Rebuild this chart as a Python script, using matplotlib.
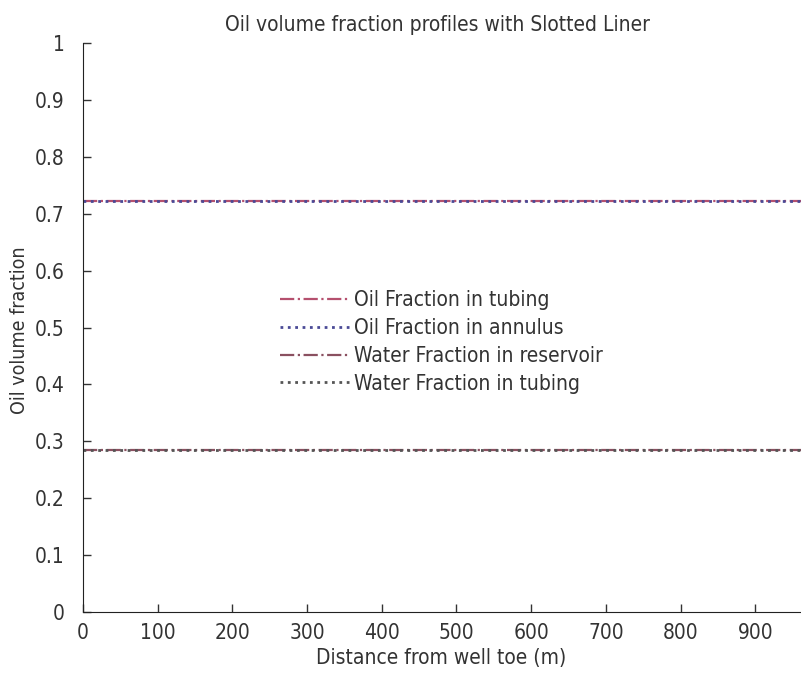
import matplotlib
matplotlib.use("Agg")
import matplotlib.pyplot as plt

plt.rcParams['font.family'] = ['DejaVu Sans']
plt.rcParams['font.stretch'] = 'condensed'

# distance from well toe (m) and volume fractions
distance = [0, 100, 200, 300, 400, 500, 600, 700, 800, 900, 1000]
oil_tubing = [0.722, 0.722, 0.722, 0.722, 0.722, 0.722, 0.722, 0.722, 0.722, 0.722, 0.722]
oil_annulus = [0.722, 0.722, 0.722, 0.722, 0.722, 0.722, 0.722, 0.722, 0.722, 0.722, 0.722]
water_reservoir = [0.285, 0.285, 0.285, 0.285, 0.285, 0.285, 0.285, 0.285, 0.285, 0.285, 0.285]
water_tubing = [0.285, 0.285, 0.285, 0.285, 0.285, 0.285, 0.285, 0.285, 0.285, 0.285, 0.285]

xticks = [0, 100, 200, 300, 400, 500, 600, 700, 800, 900]
yticks = [0, 0.1, 0.2, 0.3, 0.4, 0.5, 0.6, 0.7, 0.8, 0.9, 1]
ytick_labels = ['0', '0.1', '0.2', '0.3', '0.4', '0.5', '0.6', '0.7', '0.8', '0.9', '1']

fig = plt.figure(figsize=(8.01, 6.74), dpi=100)
# axes run past the right edge, the original picture is cropped there
ax = fig.add_axes([83/801, 62/674, 747/801, 569/674])

ax.plot(distance, oil_tubing, linestyle='-.', color='#b5506e', lw=1.6, label='Oil Fraction in tubing')
ax.plot(distance, oil_annulus, linestyle=':', color='#4a4a96', lw=2.0, label='Oil Fraction in annulus')
ax.plot(distance, water_reservoir, linestyle='-.', color='#8a5060', lw=1.6, label='Water Fraction in reservoir')
ax.plot(distance, water_tubing, linestyle=':', color='#555555', lw=2.0, label='Water Fraction in tubing')

ax.set_xlim(0, 1000)
ax.set_ylim(0, 1)
ax.set_xticks(xticks)
ax.set_yticks(yticks)
ax.set_yticklabels(ytick_labels)
ax.tick_params(direction='in', length=6, width=1, labelsize=15, colors='#333333')
ax.tick_params(axis='y', pad=13)
ax.tick_params(axis='x', pad=8)
ax.spines['top'].set_visible(False)
ax.spines['right'].set_visible(False)
ax.spines['left'].set_color('#222222')
ax.spines['bottom'].set_color('#222222')

fig.text(20/801, 1 - 330/674, 'Oil volume fraction', rotation=90, ha='center', va='center',
         fontsize=14, color='#333333')
fig.text(441/801, 1 - 658/674, 'Distance from well toe (m)', ha='center', va='center',
         fontsize=15, color='#333333')
fig.text(437/801, 1 - 25/674, 'Oil volume fraction profiles with Slotted Liner', ha='center',
         va='center', fontsize=15, color='#333333')

ax.legend(loc='center left', bbox_to_anchor=((261-83)/747, (612-342)/569), frameon=False,
          fontsize=15, handlelength=3.3, handletextpad=0.25, labelspacing=0.37,
          labelcolor='#333333')

fig.savefig('out.png', dpi=100)
